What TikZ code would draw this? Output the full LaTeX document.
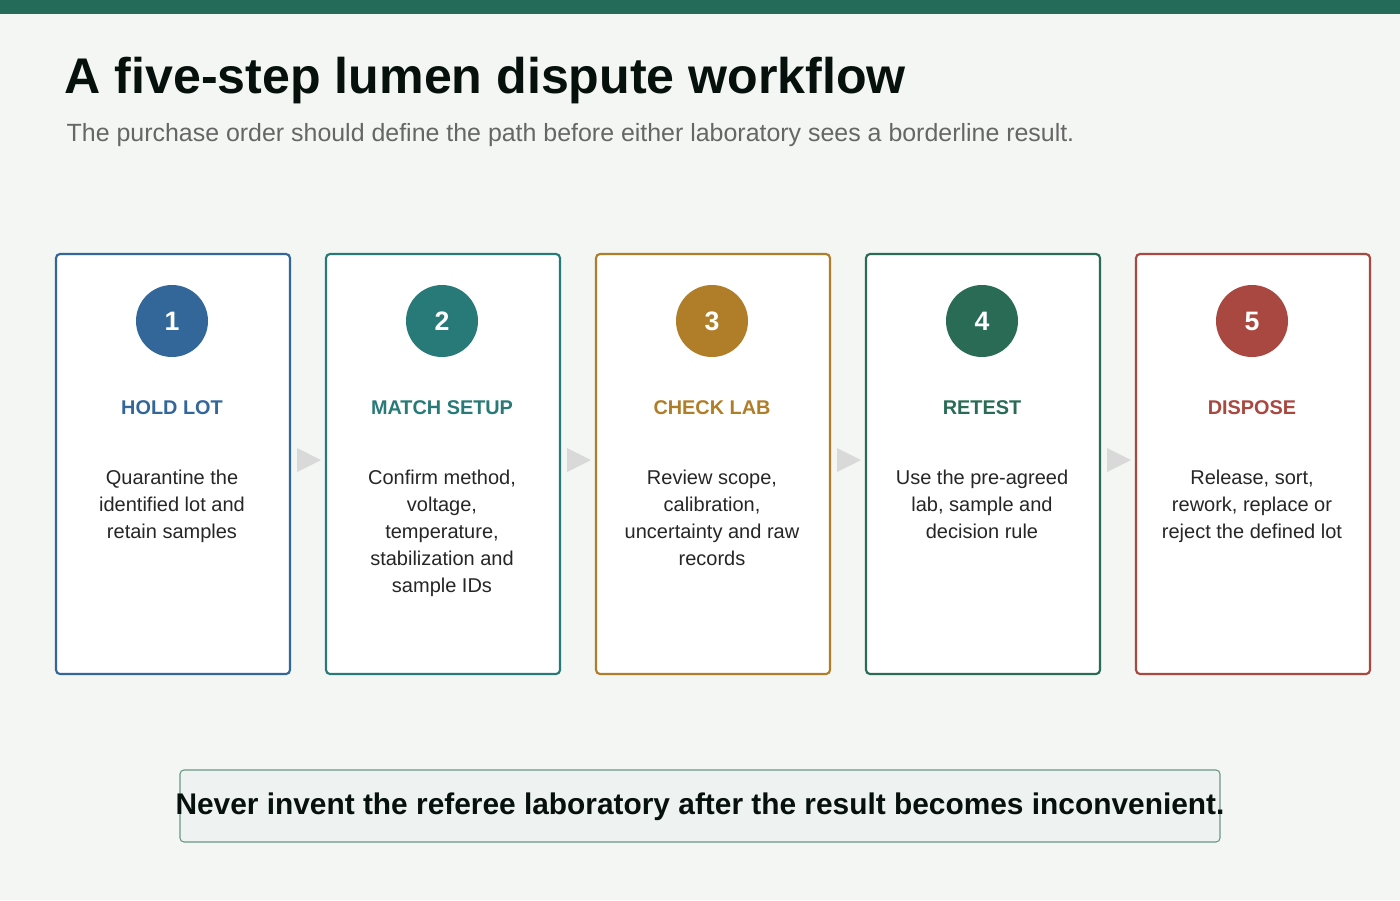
\documentclass[tikz,border=0pt]{standalone}
\usepackage{fontspec}
\setmainfont{Liberation Sans}
\begin{document}
\begin{tikzpicture}[x=0.75pt,y=-0.75pt,
 card/.style={draw=#1,line width=1.6pt,fill=white,rounded corners=3pt},
 num/.style={circle,fill=#1,minimum size=54pt,inner sep=0pt,text=white,font=\bfseries\fontsize{20}{24}\selectfont},
 lab/.style={text=#1,font=\bfseries\fontsize{14.9}{17}\selectfont},
 body/.style={align=center,text=black!85,font=\fontsize{15}{20.25}\selectfont,anchor=north},
 arr/.style={fill=black!15,draw=none}]
\definecolor{bg}{HTML}{F3F6F3}
\definecolor{top}{HTML}{256B5A}
\definecolor{cA}{HTML}{336699}
\definecolor{cB}{HTML}{287A78}
\definecolor{cC}{HTML}{B07D28}
\definecolor{cD}{HTML}{2A6B55}
\definecolor{cE}{HTML}{A84840}
\fill[bg] (0,0) rectangle (1400,900);
\useasboundingbox (0,0) rectangle (1400,900);
\fill[top] (0,0) rectangle (1400,14);
\node[anchor=west,font=\bfseries\fontsize{37.6}{44}\selectfont,text=black!85!cD] (title) at (60,81) {A five-step lumen dispute workflow};
\node[anchor=west,font=\fontsize{18.7}{22}\selectfont,text=black!60] (sub) at (62,135) {The purchase order should define the path before either laboratory sees a borderline result.};
\foreach \i/\x/\c/\n/\l/\t in {
 a/56/cA/1/HOLD LOT/{Quarantine the\\identified lot and\\retain samples},
 b/326/cB/2/MATCH SETUP/{Confirm method,\\voltage,\\temperature,\\stabilization and\\sample IDs},
 c/596/cC/3/CHECK LAB/{Review scope,\\calibration,\\uncertainty and raw\\records},
 d/866/cD/4/RETEST/{Use the pre-agreed\\lab, sample and\\decision rule},
 e/1136/cE/5/DISPOSE/{Release, sort,\\rework, replace or\\reject the defined lot}}{
 \draw[card=\c] (\x,254) rectangle ++(234,420);
 \node[num=\c] (n\i) at (\x+116,321) {\n};
 \node[lab=\c] (l\i) at (\x+116,408) {\l};
 \node[body] (t\i) at (\x+116,465) {\t};
}
\foreach \x in {297,567,837,1107}{
 \fill[arr] (\x,448) -- (\x+24,460) -- (\x,472) -- cycle;
}
\draw[draw=cD!70,fill=cD!8,line width=0.8pt,rounded corners=3pt] (180,770) rectangle (1220,842);
\node[font=\bfseries\fontsize{22.4}{26}\selectfont,text=black!85!cD] (foot) at (700,807) {Never invent the referee laboratory after the result becomes inconvenient.};
\end{tikzpicture}
\end{document}
